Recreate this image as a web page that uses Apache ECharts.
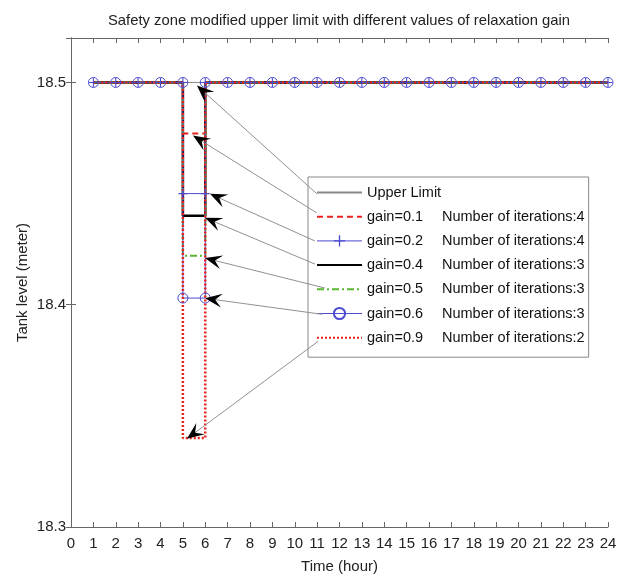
<!DOCTYPE html>
<html><head><meta charset="utf-8">
<script src="https://cdn.jsdelivr.net/npm/echarts@6/dist/echarts.min.js"></script>
<style>html,body{margin:0;padding:0;background:#fff}#c{width:621px;height:575px}</style>
</head><body><div id="c"></div>
<script>
// ---- data ----
const timeHours = [1,2,3,4,5,6,7,8,9,10,11,12,13,14,15,16,17,18,19,20,21,22,23,24];
const upperLimit = 18.5;
const dropStart = 5, dropEnd = 6;
const gainNames = ['gain=0.1','gain=0.2','gain=0.4','gain=0.5','gain=0.6','gain=0.9'];
const iterations = [4,4,3,3,3,2];
const dropLevels = [18.477, 18.450, 18.440, 18.422, 18.403, 18.340];
const xTicks = [0,1,2,3,4,5,6,7,8,9,10,11,12,13,14,15,16,17,18,19,20,21,22,23,24];
const yTicks = [18.3, 18.4, 18.5];
// annotation arrows: [from (legend side), tip] in data coords
const arrowFrom = [[10.99,18.4499],[10.99,18.4413],[10.90,18.4287],[10.90,18.4183],[11.35,18.4075],[11.22,18.3957],[11.04,18.3835]];
const arrowTip  = [[5.63,18.4986],[5.45,18.4761],[6.21,18.4499],[5.99,18.4391],[5.99,18.4210],[5.99,18.4029],[5.18,18.3397]];

function stepSeries(level){
  const d = [];
  timeHours.forEach(t => {
    if (t === dropStart){ d.push([t, upperLimit]); d.push([t, level]); }
    else if (t === dropEnd){ d.push([t, level]); d.push([t, upperLimit]); }
    else d.push([t, upperLimit]);
  });
  return d;
}

const blue = '#4b4bd2';
const red = '#e8231f';
const styles = [
  {lineStyle:{color:red, width:2, type:[6,4]}, symbol:'none', itemStyle:{color:red}},
  {lineStyle:{color:blue, width:1}, symbol:'path://M-0.6,-5L0.6,-5L0.6,5L-0.6,5ZM-5,-0.6L5,-0.6L5,0.6L-5,0.6Z', symbolSize:9, itemStyle:{color:blue}},
  {lineStyle:{color:'#000', width:2.5}, symbol:'none', itemStyle:{color:'#000'}},
  {lineStyle:{color:'#5cb531', width:2, type:[7,3,2,3]}, symbol:'none', itemStyle:{color:'#5cb531'}},
  {lineStyle:{color:blue, width:1}, symbol:'circle', symbolSize:10, itemStyle:{color:'rgba(0,0,0,0)', borderColor:blue, borderWidth:1}},
  {lineStyle:{color:red, width:2.5, type:[2,2]}, symbol:'none', itemStyle:{color:red}}
];

const series = [{
  name:'Upper Limit', type:'line', data: timeHours.map(t=>[t, upperLimit]),
  symbol:'none', lineStyle:{color:'#888', width:1}, itemStyle:{color:'#888'}, animation:false
}];
gainNames.forEach((n,i)=>{
  series.push(Object.assign({name:n, type:'line', data:stepSeries(dropLevels[i]), animation:false, showAllSymbol:true}, styles[i]));
});

const hidden = {opacity:0, color:'rgba(0,0,0,0)', borderWidth:0};
const legendData = [{name:'Upper Limit', itemStyle:hidden}].concat(gainNames.map((n,i)=>
  (styles[i].symbol === 'none') ? {name:n, itemStyle:hidden} : {name:n, lineStyle:{width:1}}));

const chart = echarts.init(document.getElementById('c'), null, {renderer:'canvas'});
const axisCol = '#666';
const font = 'Liberation Sans, Arial, sans-serif';
chart.setOption({
  animation:false,
  textStyle:{fontFamily:font},
  title:{text:'Safety zone modified upper limit with different values of relaxation gain', left:103, top:8,
    textStyle:{fontSize:14.8, fontWeight:'normal', color:'#222', fontFamily:font}},
  grid:{left:71, right:13, top:38, bottom:48, outerBoundsMode:'none', containLabel:false},
  legend:{
    orient:'vertical', left:308, top:177, itemWidth:45, itemHeight:14, itemGap:9.2,
    padding:[8,4,12,8], borderColor:'#888', borderWidth:1, backgroundColor:'#fff',
    data:legendData,
    textStyle:{fontSize:14.5, color:'#111', fontFamily:font, lineHeight:14,
      rich:{a:{width:75, fontSize:14.5, lineHeight:14, color:'#111', fontFamily:font}, b:{width:142, fontSize:14.5, lineHeight:14, color:'#111', fontFamily:font}}},
    formatter: name => {
      const i = gainNames.indexOf(name);
      return i < 0 ? name : '{a|' + name + '}{b|Number of iterations:' + iterations[i] + '}';
    },
    selectedMode:false
  },
  xAxis:[{
    type:'value', min:0, max:24, interval:1, name:'Time (hour)', nameLocation:'middle', nameGap:32,
    nameTextStyle:{fontSize:15, color:'#222'},
    axisLine:{lineStyle:{color:axisCol}}, axisTick:{inside:true, length:5, lineStyle:{color:axisCol}},
    axisLabel:{fontSize:15, color:'#222', margin:9, formatter: v => xTicks.includes(v) ? String(v) : ''},
    splitLine:{show:false}
  },{
    type:'value', min:0, max:24, interval:1, position:'top',
    axisLine:{lineStyle:{color:axisCol}}, axisTick:{inside:true, length:5, lineStyle:{color:axisCol}},
    axisLabel:{show:false}, splitLine:{show:false}
  }],
  yAxis:[{
    type:'value', min:18.3, max:18.52, interval:0.1, name:'Tank level (meter)', nameLocation:'middle', nameGap:41,
    nameMoveOverlap:false,
    nameTextStyle:{fontSize:15, color:'#222'},
    axisLine:{show:true, lineStyle:{color:axisCol}}, axisTick:{show:true, inside:true, length:5, lineStyle:{color:axisCol}},
    axisLabel:{fontSize:15, color:'#222', margin:5, showMaxLabel:false,
      formatter: v => { const m = yTicks.find(t => Math.abs(t - v) < 1e-6); return m !== undefined ? m.toFixed(1) : ''; }},
    splitLine:{show:false}
  },{
    type:'value', min:18.3, max:18.52, interval:0.1, position:'right',
    axisLine:{show:true, lineStyle:{color:axisCol}}, axisTick:{show:true, inside:true, length:5, lineStyle:{color:axisCol}},
    axisLabel:{show:false}, splitLine:{show:false}
  }],
  series: series
});

// annotation arrows
const g = [];
arrowFrom.forEach((f,i)=>{
  const p0 = chart.convertToPixel({xAxisIndex:0, yAxisIndex:0}, f);
  const p1 = chart.convertToPixel({xAxisIndex:0, yAxisIndex:0}, arrowTip[i]);
  let dx = p0[0]-p1[0], dy = p0[1]-p1[1];
  const len = Math.hypot(dx,dy); dx/=len; dy/=len;
  const nx = -dy, ny = dx, L = 17, W = 7;
  g.push({type:'line', shape:{x1:p0[0], y1:p0[1], x2:p1[0]+dx*10, y2:p1[1]+dy*10}, style:{stroke:'#909090', lineWidth:1}, z:50, silent:true});
  g.push({type:'polygon', shape:{points:[
    [p1[0], p1[1]],
    [p1[0]+dx*L+nx*W, p1[1]+dy*L+ny*W],
    [p1[0]+dx*L*0.6, p1[1]+dy*L*0.6],
    [p1[0]+dx*L-nx*W, p1[1]+dy*L-ny*W]
  ]}, style:{fill:'#000'}, z:51, silent:true});
});
chart.setOption({graphic:g});
</script></body></html>
